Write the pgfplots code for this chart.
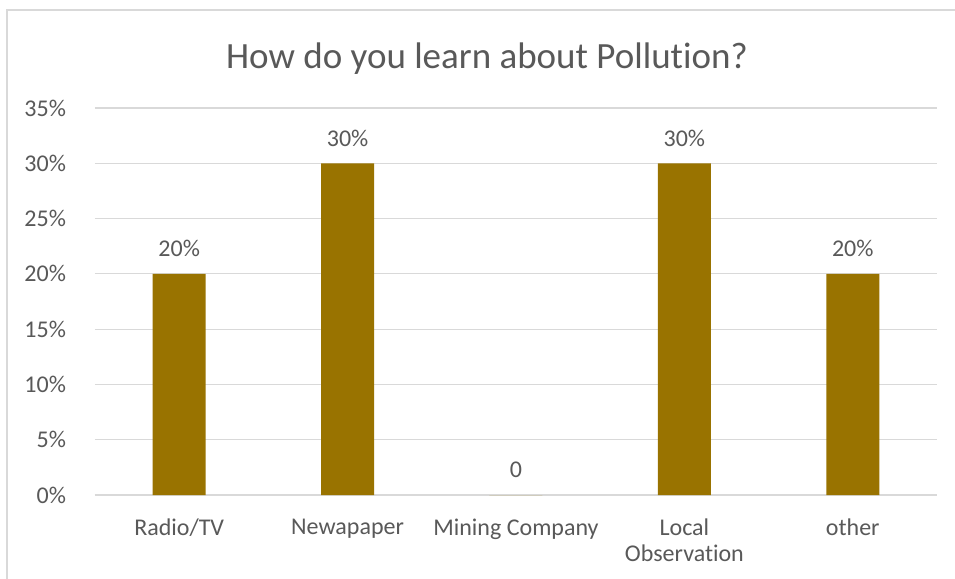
\documentclass[border=0pt]{standalone}
\usepackage{pgfplots}
\usepackage{fontspec}
\setmainfont{Carlito}[Ligatures=NoCommon]
\pgfplotsset{compat=1.18}
\definecolor{barcol}{RGB}{153,115,0}
\definecolor{txtcol}{RGB}{89,89,89}
\definecolor{gridcol}{RGB}{217,217,217}
\begin{document}
\begin{tikzpicture}
% frame: 955x579 px at 0.5pt per px, origin at plot lower-left
\useasboundingbox (-47.5pt,-42pt) rectangle (430pt,247.5pt);
\fill[white] (-47.5pt,-42pt) rectangle (430pt,247.5pt);
\draw[gridcol, line width=0.6pt] (-44pt,-42pt) -- (-44pt,242.5pt) -- (430pt,242.5pt);
\begin{axis}[
    at={(0,0)}, anchor=south west,
    scale only axis,
    width=421pt, height=193.5pt,
    ybar, bar width=26.5pt,
    xmin=-0.5, xmax=4.5,
    ymin=0, ymax=35,
    xtick={0,1,2,3,4},
    xticklabels={Radio/TV, Newapaper, Mining Company, Local\\Observation, other},
    ytick={0,5,...,35},
    yticklabel={\pgfmathprintnumber{\tick}\%},
    /pgf/number format/assume math mode=true,
    axis x line*=bottom,
    axis y line*=left,
    y axis line style={draw=none},
    x axis line style={gridcol, line width=0.8pt, -},
    major tick length=0pt,
    ymajorgrids,
    grid style={gridcol, line width=0.6pt},
    tick label style={font=\fontsize{12}{13}\selectfont, text=txtcol},
    xticklabel style={align=center, yshift=-8.5pt},
    yticklabel style={xshift=-11pt},
    point meta=explicit symbolic,
    nodes near coords,
    nodes near coords style={font=\fontsize{12}{13}\selectfont, text=txtcol, anchor=center, yshift=12.5pt},
]
\addplot[fill=barcol, draw=none] coordinates {
    (0,20) [20\%]
    (1,30) [30\%]
    (2,0)  [0]
    (3,30) [30\%]
    (4,20) [20\%]
};
\end{axis}
\node[font=\fontsize{18.5}{20}\selectfont, text=txtcol] at (196pt,218.2pt) {How do you learn about Pollution?};
\end{tikzpicture}
\end{document}
